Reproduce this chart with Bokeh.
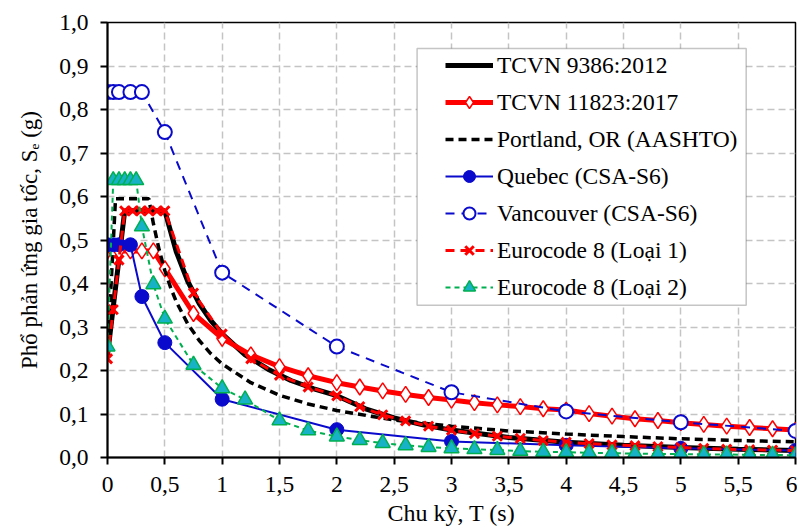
from bokeh.plotting import figure
from bokeh.models import (Range1d, FixedTicker, Legend, LegendItem,
                          CustomJSTickFormatter, BoxAnnotation)
from bokeh.embed import file_html
from bokeh.resources import INLINE

# ---------------- data ----------------
T_9386 = [0, 0.15, 0.5, 0.6, 0.7, 0.8, 0.9, 1.0, 1.2, 1.4, 1.6, 1.8, 2.0,
          2.25, 2.5, 2.75, 3.0, 3.5, 4.0, 4.5, 5.0, 5.5, 6.0]
S_9386 = [0.235, 0.567, 0.567, 0.473, 0.405, 0.354, 0.315, 0.284, 0.236,
          0.203, 0.177, 0.158, 0.142, 0.112, 0.091, 0.075, 0.063, 0.046,
          0.035, 0.028, 0.023, 0.019, 0.016]

T_11823 = [0, 0.05, 0.1, 0.2, 0.3, 0.4, 0.5, 0.75, 1.0, 1.25, 1.5, 1.75,
           2.0, 2.2, 2.4, 2.6, 2.8, 3.0, 3.2, 3.4, 3.6, 3.8, 4.0, 4.2, 4.4,
           4.6, 4.8, 5.0, 5.2, 5.4, 5.6, 5.8, 6.0]
S_11823 = [0.475, 0.475, 0.475, 0.475, 0.475, 0.475, 0.434, 0.331, 0.274,
           0.236, 0.209, 0.188, 0.172, 0.162, 0.153, 0.145, 0.138, 0.132,
           0.126, 0.121, 0.117, 0.112, 0.109, 0.101, 0.095, 0.089, 0.085,
           0.080, 0.076, 0.072, 0.069, 0.066, 0.063]

T_portland = [0, 0.07, 0.36, 0.4, 0.45, 0.5, 0.55, 0.6, 0.7, 0.8, 0.9, 1.0,
              1.25, 1.5, 1.75, 2.0, 2.5, 3.0, 3.5, 4.0, 4.5, 5.0, 5.5, 6.0]
S_portland = [0.238, 0.595, 0.595, 0.538, 0.478, 0.430, 0.391, 0.358, 0.307,
              0.269, 0.239, 0.215, 0.172, 0.143, 0.123, 0.108, 0.086, 0.072,
              0.061, 0.054, 0.048, 0.043, 0.039, 0.036]

T_quebec = [0, 0.05, 0.1, 0.2, 0.3, 0.5, 1.0, 2.0, 3.0, 4.0, 5.0, 6.0]
S_quebec = [0.489, 0.489, 0.489, 0.489, 0.370, 0.264, 0.134, 0.064, 0.037,
            0.028, 0.021, 0.016]

T_vancouver = [0, 0.05, 0.1, 0.2, 0.3, 0.5, 1.0, 2.0, 3.0, 4.0, 5.0, 6.0]
S_vancouver = [0.84, 0.84, 0.84, 0.84, 0.84, 0.748, 0.425, 0.255, 0.150,
               0.106, 0.081, 0.061]

T_ec8_1 = [0, 0.05, 0.1, 0.15, 0.22, 0.29, 0.36, 0.43, 0.5, 0.75, 1.0, 1.25,
           1.5, 1.75, 2.0, 2.2, 2.4, 2.6, 2.8, 3.0, 3.2, 3.4, 3.6, 3.8, 4.0,
           4.2, 4.4, 4.6, 4.8, 5.0, 5.2, 5.4, 5.6, 5.8, 6.0]
S_ec8_1 = [0.227, 0.340, 0.454, 0.567, 0.567, 0.567, 0.567, 0.567, 0.567,
           0.378, 0.284, 0.227, 0.189, 0.162, 0.142, 0.117, 0.098, 0.084,
           0.072, 0.063, 0.055, 0.049, 0.044, 0.039, 0.035, 0.032, 0.029,
           0.027, 0.025, 0.023, 0.021, 0.019, 0.018, 0.017, 0.016]

T_ec8_2 = [0, 0.05, 0.1, 0.15, 0.2, 0.25, 0.3, 0.4, 0.5, 0.75, 1.0, 1.2,
           1.5, 1.75, 2.0, 2.2, 2.4, 2.6, 2.8, 3.0, 3.2, 3.4, 3.6, 3.8, 4.0,
           4.2, 4.4, 4.6, 4.8, 5.0, 5.2, 5.4, 5.6, 5.8, 6.0]
S_ec8_2 = [0.255, 0.6375, 0.6375, 0.6375, 0.6375, 0.6375, 0.531, 0.398,
           0.319, 0.213, 0.159, 0.133, 0.085, 0.062, 0.048, 0.040, 0.033,
           0.028, 0.024, 0.021, 0.019, 0.017, 0.015, 0.013, 0.012, 0.011,
           0.010, 0.009, 0.008, 0.008, 0.007, 0.007, 0.006, 0.006, 0.005]

labels = ["TCVN 9386:2012", "TCVN 11823:2017", "Portland, OR (AASHTO)",
          "Quebec (CSA-S6)", "Vancouver (CSA-S6)", "Eurocode 8 (Loại 1)",
          "Eurocode 8 (Loại 2)"]
x_title = "Chu kỳ, T (s)"
y_title = "Phổ phản ứng gia tốc, Sₑ (g)"

x_ticks = [0, 0.5, 1, 1.5, 2, 2.5, 3, 3.5, 4, 4.5, 5, 5.5, 6]
y_ticks = [0, 0.1, 0.2, 0.3, 0.4, 0.5, 0.6, 0.7, 0.8, 0.9, 1.0]

# ---------------- figure ----------------
FONT = '"Liberation Serif", "Times New Roman", serif'
p = figure(width=797, height=528, output_backend="svg", toolbar_location=None,
           x_range=Range1d(0, 6), y_range=Range1d(0, 1),
           min_border_left=107, min_border_top=22, min_border_right=2,
           min_border_bottom=70)
p.background_fill_color = "white"
p.border_fill_color = "white"
p.outline_line_color = "black"
p.outline_line_width = 1.5

p.xaxis.ticker = FixedTicker(ticks=x_ticks)
p.yaxis.ticker = FixedTicker(ticks=y_ticks)
p.xaxis.formatter = CustomJSTickFormatter(
    code="return (Math.abs(tick - Math.round(tick)) < 1e-9) ? tick.toFixed(0) : tick.toFixed(1).replace('.', ',');")
p.yaxis.formatter = CustomJSTickFormatter(
    code="return tick.toFixed(1).replace('.', ',');")

for ax in (p.xaxis[0], p.yaxis[0]):
    ax.axis_line_color = "black"
    ax.axis_line_width = 2
    ax.major_tick_line_color = "black"
    ax.major_tick_line_width = 2
    ax.major_tick_in = 0
    ax.major_tick_out = 7
    ax.minor_tick_line_color = None
    ax.major_label_text_font = FONT
    ax.major_label_text_font_size = "23.5px"
    ax.major_label_text_color = "black"
    ax.axis_label_text_font = FONT
    ax.axis_label_text_font_style = "normal"
    ax.axis_label_text_color = "black"

p.xaxis.axis_label = x_title
p.yaxis.axis_label = y_title
p.xaxis.axis_label_text_font_size = "24px"
p.yaxis.axis_label_text_font_size = "23px"
p.xaxis.major_label_standoff = 12
p.xaxis.axis_label_standoff = 5
p.yaxis.major_label_standoff = 12
p.yaxis.axis_label_standoff = 14

for g in (p.xgrid[0], p.ygrid[0]):
    g.grid_line_color = "#C4C4C4"
    g.grid_line_width = 1.5
    g.grid_line_dash = "7 4"

# ---------------- series ----------------
GREEN = "#00B050"
TEAL = "#17B2C6"
BLUE = "#0A0ACC"
RED = "#FF0000"

r1 = p.line(T_9386, S_9386, line_color="black", line_width=5)

r2l = p.line(T_11823, S_11823, line_color=RED, line_width=5)
r2m = p.scatter(T_11823, S_11823, marker="diamond", size=16,
                fill_color="white", line_color=RED, line_width=1.5)

r3 = p.line(T_portland, S_portland, line_color="black", line_width=3.5,
            line_dash="8 5")

r4l = p.line(T_quebec, S_quebec, line_color=BLUE, line_width=2)
r4m = p.scatter(T_quebec, S_quebec, marker="circle", size=14,
                fill_color=BLUE, line_color=BLUE, line_width=1)

r5l = p.line(T_vancouver, S_vancouver, line_color=BLUE, line_width=2,
             line_dash="9 7")
r5m = p.scatter(T_vancouver, S_vancouver, marker="circle", size=14,
                fill_color="white", line_color=BLUE, line_width=2)

r6l = p.line(T_ec8_1, S_ec8_1, line_color=RED, line_width=3, line_dash="9 6")
r6m = p.scatter(T_ec8_1, S_ec8_1, marker="x", size=13, line_color=RED,
                line_width=3)

r7l = p.line(T_ec8_2, S_ec8_2, line_color=GREEN, line_width=2,
             line_dash="5 4")
r7m = p.scatter(T_ec8_2, S_ec8_2, marker="triangle", size=15,
                fill_color=TEAL, line_color=GREEN, line_width=1.5)

# ---------------- legend ----------------
box = BoxAnnotation(left=2.70, right=5.57, bottom=0.35, top=0.94,
                    fill_color="white", fill_alpha=1.0,
                    line_color="#404040", line_width=1.5)
p.add_layout(box)

items = [
    LegendItem(label=labels[0], renderers=[r1]),
    LegendItem(label=labels[1], renderers=[r2l, r2m]),
    LegendItem(label=labels[2], renderers=[r3]),
    LegendItem(label=labels[3], renderers=[r4l, r4m]),
    LegendItem(label=labels[4], renderers=[r5l, r5m]),
    LegendItem(label=labels[5], renderers=[r6l, r6m]),
    LegendItem(label=labels[6], renderers=[r7l, r7m]),
]
legend = Legend(items=items, location=(338, 155), padding=0, margin=0,
                border_line_color=None, background_fill_alpha=0,
                glyph_width=48, glyph_height=30, label_height=30,
                spacing=7, label_standoff=4,
                label_text_font=FONT, label_text_font_size="23.5px",
                label_text_color="black")
p.add_layout(legend)

open("out.html", "w").write(file_html(p, INLINE))
